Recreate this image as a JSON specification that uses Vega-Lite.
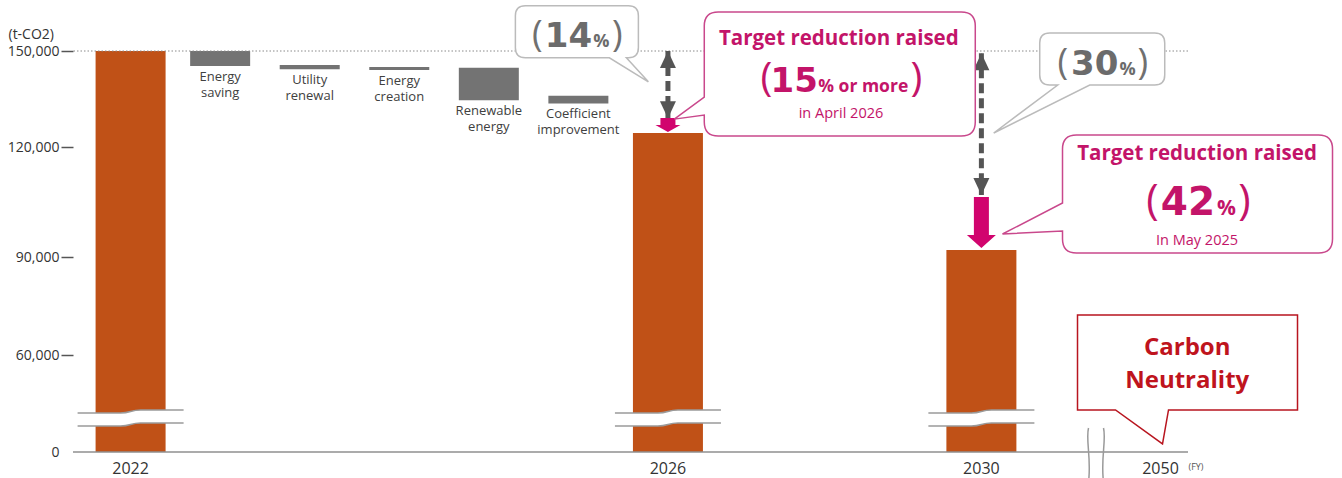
{
  "$schema": "https://vega.github.io/schema/vega-lite/v6.json",
  "width": 1115,
  "height": 452,
  "autosize": {"type": "none"},
  "padding": {"left": 73, "top": 0, "right": 154, "bottom": 26},
  "background": "white",
  "config": {"font": "Open Sans", "view": {"stroke": null}},
  "datasets": {
    "bars": [
      {"item": "2022", "kind": "total", "from": 0, "to": 150000},
      {"item": "Energy saving", "kind": "step", "from": 150000, "to": 145300},
      {"item": "Utility renewal", "kind": "step", "from": 145600, "to": 144300},
      {"item": "Energy creation", "kind": "step", "from": 145000, "to": 144100},
      {"item": "Renewable energy", "kind": "step", "from": 144800, "to": 134600},
      {"item": "Coefficient improvement", "kind": "step", "from": 136000, "to": 133600},
      {"item": "2026", "kind": "total", "from": 0, "to": 124400},
      {"item": "2030", "kind": "total", "from": 0, "to": 91900}
    ],
    "refs": [
      {"name": "2022 level", "v": 150000},
      {"name": "zero", "v": 0}
    ],
    "arrows": [
      {"at": "2026", "top": 150000, "bottom": 129000},
      {"at": "2030", "top": 149300, "bottom": 106900}
    ],
    "callouts": [
      {"id": "A", "at": "Coefficient improvement", "v": 156000},
      {"id": "B", "at": "s15", "v": 140900},
      {"id": "C", "at": "s22", "v": 147500},
      {"id": "D", "at": "2050", "v": 106900},
      {"id": "E", "at": "2050", "v": 55700}
    ],
    "notes": [
      {"id": "A", "part": "lp", "text": "(", "at": "Coefficient improvement", "v": 156000},
      {"id": "A", "part": "num", "text": "14", "at": "Coefficient improvement", "v": 156000},
      {"id": "A", "part": "pct", "text": "%", "at": "Coefficient improvement", "v": 156000},
      {"id": "A", "part": "rp", "text": ")", "at": "Coefficient improvement", "v": 156000},
      {"id": "B", "part": "head", "text": "Target reduction raised", "at": "s15", "v": 140900},
      {"id": "B", "part": "lp", "text": "(", "at": "s15", "v": 140900},
      {"id": "B", "part": "num", "text": "15", "at": "s15", "v": 140900},
      {"id": "B", "part": "pct", "text": "% or more", "at": "s15", "v": 140900},
      {"id": "B", "part": "rp", "text": ")", "at": "s15", "v": 140900},
      {"id": "B", "part": "sub", "text": "in April 2026", "at": "s15", "v": 140900},
      {"id": "C", "part": "lp", "text": "(", "at": "s22", "v": 147500},
      {"id": "C", "part": "num", "text": "30", "at": "s22", "v": 147500},
      {"id": "C", "part": "pct", "text": "%", "at": "s22", "v": 147500},
      {"id": "C", "part": "rp", "text": ")", "at": "s22", "v": 147500},
      {"id": "D", "part": "head", "text": "Target reduction raised", "at": "2050", "v": 106900},
      {"id": "D", "part": "lp", "text": "(", "at": "2050", "v": 106900},
      {"id": "D", "part": "num", "text": "42", "at": "2050", "v": 106900},
      {"id": "D", "part": "pct", "text": "%", "at": "2050", "v": 106900},
      {"id": "D", "part": "rp", "text": ")", "at": "2050", "v": 106900},
      {"id": "D", "part": "sub", "text": "In May 2025", "at": "2050", "v": 106900},
      {"id": "E", "part": "title", "text": "Carbon Neutrality", "at": "2050", "v": 55700}
    ]
  },
  "layer": [
    {
      "data": {"name": "bars"},
      "transform": [{"filter": "datum.kind == 'total'"}],
      "mark": {"type": "bar", "width": 70, "color": "#C05117"},
      "encoding": {
        "x": {
          "field": "item", "type": "nominal", "sort": null,
          "scale": {
            "type": "band",
            "domain": ["2022", "s1", "Energy saving", "s3", "Utility renewal", "s5", "Energy creation", "s7", "Renewable energy", "s9", "Coefficient improvement", "s11", "2026", "s13", "s14", "s15", "s16", "s17", "s18", "2030", "s20", "s21", "s22", "2050"],
            "range": [35.2, 1109.9],
            "paddingInner": 0,
            "paddingOuter": 0
          },
          "axis": {
            "title": "(FY)",
            "domain": false,
            "ticks": false,
            "labelPadding": 8,
            "labelFontSize": 16,
            "labelColor": "#333333",
            "labelAngle": 0,
            "labelOverlap": false,
            "labelExpr": "indexof(['2022','2026','2030','2050'], datum.value) >= 0 ? datum.label : ''",
            "titleFontSize": 9,
            "titleFontWeight": "normal",
            "titleColor": "#555555",
            "titleX": 1115,
            "titleY": 17,
            "titleAlign": "left",
            "titleBaseline": "alphabetic"
          }
        },
        "y": {
          "field": "from", "type": "quantitative",
          "scale": {"domain": [0, 60000, 90000, 120000, 150000], "range": [452, 355, 257, 147, 51], "nice": false, "zero": false},
          "axis": {
            "values": [0, 60000, 90000, 120000, 150000],
            "labelExpr": "format(datum.value, ',')",
            "title": "(t-CO2)",
            "domain": false,
            "grid": false,
            "tickSize": 12,
            "tickWidth": 1.5,
            "tickColor": "#555555",
            "tickOpacity": {"condition": {"test": "datum.value === 0", "value": 0}, "value": 1},
            "labelPadding": 2,
            "labelFontSize": 14,
            "labelColor": "#333333",
            "labelFlush": false,
            "labelOverlap": false,
            "titleAngle": 0,
            "titleX": -65,
            "titleY": 34,
            "titleAlign": "left",
            "titleBaseline": "middle",
            "titleFontSize": 14,
            "titleFontWeight": "normal",
            "titleColor": "#333333"
          }
        },
        "y2": {"field": "to"}
      }
    },
    {
      "data": {"name": "bars"},
      "transform": [{"filter": "datum.kind == 'step'"}],
      "mark": {"type": "bar", "width": 60, "color": "#737373"},
      "encoding": {
        "x": {"field": "item", "type": "nominal"},
        "y": {"field": "from", "type": "quantitative"},
        "y2": {"field": "to"}
      }
    },
    {
      "data": {"name": "refs"},
      "transform": [{"filter": "datum.name == '2022 level'"}],
      "mark": {"type": "rule", "color": "#8a8a8a", "strokeWidth": 1, "strokeDash": [1.5, 2]},
      "encoding": {"y": {"field": "v", "type": "quantitative"}}
    },
    {
      "data": {"name": "refs"},
      "transform": [{"filter": "datum.name == 'zero'"}],
      "mark": {"type": "rule", "color": "#8f8f8f", "strokeWidth": 1.5},
      "encoding": {"y": {"field": "v", "type": "quantitative"}}
    },
    {
      "data": {"name": "bars"},
      "transform": [{"filter": "datum.kind == 'step'"}],
      "mark": {"type": "text", "baseline": "top", "align": "center", "dy": 5, "fontSize": 13, "color": "#404040", "lineBreak": " ", "lineHeight": 16},
      "encoding": {
        "x": {"field": "item", "type": "nominal"},
        "y": {"field": "to", "type": "quantitative"},
        "text": {"field": "item"}
      }
    },
    {
      "data": {"name": "bars"},
      "transform": [{"filter": "datum.kind == 'total'"}],
      "mark": {"type": "point", "shape": "M-53,-6 L-10,-6 C0,-6 0,-9 10,-9 L53,-9 L53,4 L10,4 C0,4 0,7 -10,7 L-53,7 Z", "size": 4, "filled": true, "color": "white", "opacity": 1, "strokeWidth": 0},
      "encoding": {
        "x": {"field": "item", "type": "nominal"},
        "y": {"datum": 20400, "type": "quantitative"}
      }
    },
    {
      "data": {"name": "bars"},
      "transform": [{"filter": "datum.kind == 'total'"}],
      "mark": {"type": "point", "shape": "M-53,-6 L-10,-6 C0,-6 0,-9 10,-9 L53,-9 M-53,7 L-10,7 C0,7 0,4 10,4 L53,4", "size": 4, "filled": false, "color": "#9a9a9a", "opacity": 1, "strokeWidth": 1.6},
      "encoding": {
        "x": {"field": "item", "type": "nominal"},
        "y": {"datum": 20400, "type": "quantitative"}
      }
    },
    {
      "data": {"name": "refs"},
      "transform": [{"filter": "datum.name == 'zero'"}],
      "mark": {"type": "point", "shape": "M-72,-24 C-75,-12 -69,6 -72,30 M-57,-24 C-54,-12 -60,6 -57,30", "size": 4, "filled": false, "color": "#9a9a9a", "opacity": 1, "strokeWidth": 1.5},
      "encoding": {
        "x": {"datum": "2050", "type": "nominal"},
        "y": {"field": "v", "type": "quantitative"}
      }
    },
    {
      "data": {"name": "arrows"},
      "mark": {"type": "rule", "color": "#555555", "strokeWidth": 5, "strokeDash": [10, 5]},
      "encoding": {
        "x": {"field": "at", "type": "nominal"},
        "y": {"field": "top", "type": "quantitative"},
        "y2": {"field": "bottom"}
      }
    },
    {
      "data": {"name": "arrows"},
      "mark": {"type": "point", "shape": "M0,0 L8,17 L-8,17 Z", "size": 4, "filled": true, "color": "#555555", "opacity": 1, "strokeWidth": 0},
      "encoding": {
        "x": {"field": "at", "type": "nominal"},
        "y": {"field": "top", "type": "quantitative"}
      }
    },
    {
      "data": {"name": "arrows"},
      "mark": {"type": "point", "shape": "M0,0 L8,-17 L-8,-17 Z", "size": 4, "filled": true, "color": "#555555", "opacity": 1, "strokeWidth": 0},
      "encoding": {
        "x": {"field": "at", "type": "nominal"},
        "y": {"field": "bottom", "type": "quantitative"}
      }
    },
    {
      "data": {"name": "bars"},
      "transform": [{"filter": "datum.item == '2026' || datum.item == '2030'"}],
      "mark": {"type": "point", "size": 4, "filled": true, "color": "#D1046E", "opacity": 1, "strokeWidth": 0},
      "encoding": {
        "x": {"field": "item", "type": "nominal"},
        "y": {"field": "to", "type": "quantitative"},
        "shape": {"field": "item", "type": "nominal", "legend": null, "scale": {"domain": ["2026", "2030"], "range": ["M0,-1 L-12.5,-8 L-7.5,-8 L-7.5,-15 L7.5,-15 L7.5,-8 L12.5,-8 Z", "M0,-2 L-14.5,-15 L-7.5,-15 L-7.5,-53 L7.5,-53 L7.5,-15 L14.5,-15 Z"]}}
      }
    },
    {
      "data": {"name": "callouts"},
      "mark": {"type": "point", "size": 4, "filled": true, "fill": "white", "opacity": 1},
      "encoding": {
        "x": {"field": "at", "type": "nominal"},
        "y": {"field": "v", "type": "quantitative"},
        "shape": {"field": "id", "type": "nominal", "legend": null, "scale": {"domain": ["A", "B", "C", "D", "E"], "range": [
          "M-53,-26 L50,-26 Q60,-26 60,-16 L60,16 Q60,26 50,26 L48,26 L70,50 L31,26 L-53,26 Q-63,26 -63,16 L-63,-16 Q-63,-26 -53,-26 Z",
          "M-84,-68 L159,-68 Q173,-68 173,-54 L173,42 Q173,56 159,56 L-84,56 Q-98,56 -98,42 L-98,35 L-128,39 L-98,17 L-98,-54 Q-98,-68 -84,-68 Z",
          "M-66,-26 L39,-26 Q49,-26 49,-16 L49,16 Q49,26 39,26 L-26,26 L-122,74 L-58,26 L-66,26 Q-76,26 -76,16 L-76,-16 Q-76,-26 -66,-26 Z",
          "M-84,-60 L158,-60 Q172,-60 172,-46 L172,44 Q172,58 158,58 L-84,58 Q-98,58 -98,44 L-98,36 L-158,39 L-98,8 L-98,-46 Q-98,-60 -84,-60 Z",
          "M-83,-47 L137,-47 L137,48 L8,48 L2,82 L-45,48 L-83,48 Z"
        ]}},
        "stroke": {"field": "id", "type": "nominal", "legend": null, "scale": {"domain": ["A", "B", "C", "D", "E"], "range": ["#BBBBBB", "#C9488C", "#BBBBBB", "#C9488C", "#B8151F"]}},
        "strokeWidth": {"field": "id", "type": "ordinal", "legend": null, "scale": {"domain": ["A", "B", "C", "D", "E"], "range": [1.5, 1.5, 1.5, 1.5, 2.5]}}
      }
    },
    {
      "data": {"name": "notes"},
      "transform": [{"filter": "datum.part == 'head'"}],
      "mark": {"type": "text", "align": "center", "baseline": "alphabetic", "dx": 36.5, "dy": -35, "fontSize": 20.5, "fontWeight": "bold", "color": "#C31469"},
      "encoding": {"x": {"field": "at", "type": "nominal"}, "y": {"field": "v", "type": "quantitative"}, "text": {"field": "text"}}
    },
    {
      "data": {"name": "notes"},
      "transform": [{"filter": "datum.id == 'A' && datum.part == 'lp'"}],
      "mark": {"type": "text", "align": "center", "baseline": "alphabetic", "dx": -41, "dy": 14, "fontSize": 36, "color": "#707070"},
      "encoding": {"x": {"field": "at", "type": "nominal"}, "y": {"field": "v", "type": "quantitative"}, "text": {"field": "text"}}
    },
    {
      "data": {"name": "notes"},
      "transform": [{"filter": "datum.id == 'A' && datum.part == 'num'"}],
      "mark": {"type": "text", "align": "center", "baseline": "alphabetic", "dx": -10, "dy": 15, "font": "DejaVu Sans", "fontSize": 34, "fontWeight": "bold", "color": "#6B6B6B"},
      "encoding": {"x": {"field": "at", "type": "nominal"}, "y": {"field": "v", "type": "quantitative"}, "text": {"field": "text"}}
    },
    {
      "data": {"name": "notes"},
      "transform": [{"filter": "datum.id == 'A' && datum.part == 'pct'"}],
      "mark": {"type": "text", "align": "center", "baseline": "alphabetic", "dx": 23, "dy": 15, "fontSize": 18, "fontWeight": "bold", "color": "#6B6B6B"},
      "encoding": {"x": {"field": "at", "type": "nominal"}, "y": {"field": "v", "type": "quantitative"}, "text": {"field": "text"}}
    },
    {
      "data": {"name": "notes"},
      "transform": [{"filter": "datum.id == 'A' && datum.part == 'rp'"}],
      "mark": {"type": "text", "align": "center", "baseline": "alphabetic", "dx": 39, "dy": 14, "fontSize": 36, "color": "#707070"},
      "encoding": {"x": {"field": "at", "type": "nominal"}, "y": {"field": "v", "type": "quantitative"}, "text": {"field": "text"}}
    },
    {
      "data": {"name": "notes"},
      "transform": [{"filter": "datum.id == 'C' && datum.part == 'lp'"}],
      "mark": {"type": "text", "align": "center", "baseline": "alphabetic", "dx": -53, "dy": 15, "fontSize": 36, "color": "#707070"},
      "encoding": {"x": {"field": "at", "type": "nominal"}, "y": {"field": "v", "type": "quantitative"}, "text": {"field": "text"}}
    },
    {
      "data": {"name": "notes"},
      "transform": [{"filter": "datum.id == 'C' && datum.part == 'num'"}],
      "mark": {"type": "text", "align": "center", "baseline": "alphabetic", "dx": -21, "dy": 16, "font": "DejaVu Sans", "fontSize": 34, "fontWeight": "bold", "color": "#6B6B6B"},
      "encoding": {"x": {"field": "at", "type": "nominal"}, "y": {"field": "v", "type": "quantitative"}, "text": {"field": "text"}}
    },
    {
      "data": {"name": "notes"},
      "transform": [{"filter": "datum.id == 'C' && datum.part == 'pct'"}],
      "mark": {"type": "text", "align": "center", "baseline": "alphabetic", "dx": 12, "dy": 16, "fontSize": 18, "fontWeight": "bold", "color": "#6B6B6B"},
      "encoding": {"x": {"field": "at", "type": "nominal"}, "y": {"field": "v", "type": "quantitative"}, "text": {"field": "text"}}
    },
    {
      "data": {"name": "notes"},
      "transform": [{"filter": "datum.id == 'C' && datum.part == 'rp'"}],
      "mark": {"type": "text", "align": "center", "baseline": "alphabetic", "dx": 27, "dy": 15, "fontSize": 36, "color": "#707070"},
      "encoding": {"x": {"field": "at", "type": "nominal"}, "y": {"field": "v", "type": "quantitative"}, "text": {"field": "text"}}
    },
    {
      "data": {"name": "notes"},
      "transform": [{"filter": "datum.id == 'B' && datum.part == 'lp'"}],
      "mark": {"type": "text", "align": "center", "baseline": "alphabetic", "dx": -36, "dy": 11, "fontSize": 40, "color": "#C31469"},
      "encoding": {"x": {"field": "at", "type": "nominal"}, "y": {"field": "v", "type": "quantitative"}, "text": {"field": "text"}}
    },
    {
      "data": {"name": "notes"},
      "transform": [{"filter": "datum.id == 'B' && datum.part == 'num'"}],
      "mark": {"type": "text", "align": "center", "baseline": "alphabetic", "dx": -8, "dy": 12, "font": "DejaVu Sans", "fontSize": 34, "fontWeight": "bold", "color": "#C31469"},
      "encoding": {"x": {"field": "at", "type": "nominal"}, "y": {"field": "v", "type": "quantitative"}, "text": {"field": "text"}}
    },
    {
      "data": {"name": "notes"},
      "transform": [{"filter": "datum.id == 'B' && datum.part == 'pct'"}],
      "mark": {"type": "text", "align": "left", "baseline": "alphabetic", "dx": 16, "dy": 12, "fontSize": 17.5, "fontWeight": "bold", "color": "#C31469"},
      "encoding": {"x": {"field": "at", "type": "nominal"}, "y": {"field": "v", "type": "quantitative"}, "text": {"field": "text"}}
    },
    {
      "data": {"name": "notes"},
      "transform": [{"filter": "datum.id == 'B' && datum.part == 'rp'"}],
      "mark": {"type": "text", "align": "center", "baseline": "alphabetic", "dx": 114, "dy": 11, "fontSize": 40, "color": "#C31469"},
      "encoding": {"x": {"field": "at", "type": "nominal"}, "y": {"field": "v", "type": "quantitative"}, "text": {"field": "text"}}
    },
    {
      "data": {"name": "notes"},
      "transform": [{"filter": "datum.id == 'B' && datum.part == 'sub'"}],
      "mark": {"type": "text", "align": "center", "baseline": "alphabetic", "dx": 38.7, "dy": 38, "fontSize": 14.5, "color": "#C31469"},
      "encoding": {"x": {"field": "at", "type": "nominal"}, "y": {"field": "v", "type": "quantitative"}, "text": {"field": "text"}}
    },
    {
      "data": {"name": "notes"},
      "transform": [{"filter": "datum.id == 'D' && datum.part == 'lp'"}],
      "mark": {"type": "text", "align": "center", "baseline": "alphabetic", "dx": -8, "dy": 19, "fontSize": 42, "color": "#C31469"},
      "encoding": {"x": {"field": "at", "type": "nominal"}, "y": {"field": "v", "type": "quantitative"}, "text": {"field": "text"}}
    },
    {
      "data": {"name": "notes"},
      "transform": [{"filter": "datum.id == 'D' && datum.part == 'num'"}],
      "mark": {"type": "text", "align": "center", "baseline": "alphabetic", "dx": 27.5, "dy": 20, "font": "DejaVu Sans", "fontSize": 39, "fontWeight": "bold", "color": "#C31469"},
      "encoding": {"x": {"field": "at", "type": "nominal"}, "y": {"field": "v", "type": "quantitative"}, "text": {"field": "text"}}
    },
    {
      "data": {"name": "notes"},
      "transform": [{"filter": "datum.id == 'D' && datum.part == 'pct'"}],
      "mark": {"type": "text", "align": "center", "baseline": "alphabetic", "dx": 66, "dy": 20, "fontSize": 21, "fontWeight": "bold", "color": "#C31469"},
      "encoding": {"x": {"field": "at", "type": "nominal"}, "y": {"field": "v", "type": "quantitative"}, "text": {"field": "text"}}
    },
    {
      "data": {"name": "notes"},
      "transform": [{"filter": "datum.id == 'D' && datum.part == 'rp'"}],
      "mark": {"type": "text", "align": "center", "baseline": "alphabetic", "dx": 84, "dy": 19, "fontSize": 42, "color": "#C31469"},
      "encoding": {"x": {"field": "at", "type": "nominal"}, "y": {"field": "v", "type": "quantitative"}, "text": {"field": "text"}}
    },
    {
      "data": {"name": "notes"},
      "transform": [{"filter": "datum.id == 'D' && datum.part == 'sub'"}],
      "mark": {"type": "text", "align": "center", "baseline": "alphabetic", "dx": 36.5, "dy": 50, "fontSize": 14.5, "color": "#C31469"},
      "encoding": {"x": {"field": "at", "type": "nominal"}, "y": {"field": "v", "type": "quantitative"}, "text": {"field": "text"}}
    },
    {
      "data": {"name": "notes"},
      "transform": [{"filter": "datum.id == 'E'"}],
      "mark": {"type": "text", "align": "center", "baseline": "alphabetic", "dx": 26.7, "dy": -7, "fontSize": 24, "fontWeight": "bold", "color": "#BF141D", "lineBreak": " ", "lineHeight": 33},
      "encoding": {"x": {"field": "at", "type": "nominal"}, "y": {"field": "v", "type": "quantitative"}, "text": {"field": "text"}}
    }
  ],
  "resolve": {"scale": {"shape": "independent", "stroke": "independent", "strokeWidth": "independent", "color": "independent", "fill": "independent"}}
}
